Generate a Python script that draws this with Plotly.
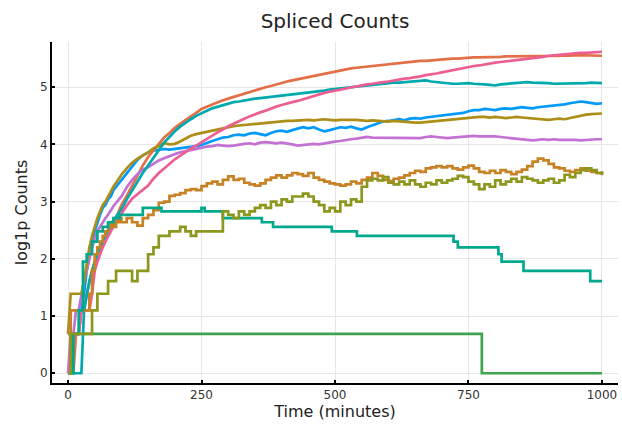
import plotly.graph_objects as go

# Sample times (minutes)
T = [0, 5, 10, 15, 20, 25, 30, 35, 40, 45, 50, 55, 60, 65, 70, 75, 80, 85, 90, 95, 100,
     110, 120, 130, 140, 150, 160, 170, 180, 190, 200,
     210, 220, 230, 240, 250, 260, 270, 280, 290, 300,
     310, 320, 330, 340, 350, 360, 370, 380, 390, 400,
     410, 420, 430, 440, 450, 460, 470, 480, 490, 500,
     510, 520, 530, 540, 550, 560, 570, 580, 590, 600,
     610, 620, 630, 640, 650, 660, 670, 680, 690, 700,
     710, 720, 730, 740, 750, 760, 770, 780, 790, 800,
     810, 820, 830, 840, 850, 860, 870, 880, 890, 900,
     910, 920, 930, 940, 950, 960, 970, 980, 990, 1000]

blue = [0, 0, 0.69, 0.69, 0.69, 1.1, 1.39, 1.79, 2.08, 2.3, 2.48, 2.64, 2.77, 2.89, 2.94, 3.04, 3.09, 3.2, 3.26, 3.33, 3.38,
        3.5, 3.62, 3.73, 3.81, 3.86, 3.89, 3.9, 3.92, 3.91, 3.92,
        3.93, 3.95, 3.96, 3.97, 3.99, 4.03, 4.06, 4.09, 4.12, 4.13,
        4.16, 4.17, 4.16, 4.19, 4.2, 4.18, 4.16, 4.2, 4.23, 4.24,
        4.22, 4.25, 4.28, 4.3, 4.28, 4.3, 4.26, 4.23, 4.25, 4.28,
        4.3, 4.29, 4.31, 4.28, 4.26, 4.3, 4.33, 4.37, 4.4, 4.41,
        4.43, 4.44, 4.42, 4.45, 4.46, 4.45, 4.47, 4.48, 4.5, 4.5,
        4.52, 4.53, 4.53, 4.55, 4.58, 4.6, 4.6, 4.62, 4.61, 4.6,
        4.62, 4.63, 4.62, 4.64, 4.65, 4.64, 4.63, 4.65, 4.66, 4.66,
        4.67, 4.69, 4.7, 4.72, 4.74, 4.75, 4.74, 4.73, 4.71, 4.72]

orange = [0, 0, 0, 0.69, 0.69, 1.1, 1.1, 1.39, 1.61, 1.79, 1.95, 2.08, 2.2, 2.3, 2.4, 2.48, 2.56, 2.64, 2.71, 2.83, 2.94,
          3.1, 3.28, 3.46, 3.63, 3.78, 3.9, 4.02, 4.12, 4.2, 4.29,
          4.36, 4.43, 4.49, 4.55, 4.62, 4.66, 4.7, 4.73, 4.77, 4.8,
          4.83, 4.86, 4.88, 4.91, 4.95, 4.97, 5.0, 5.02, 5.05, 5.07,
          5.1, 5.12, 5.14, 5.16, 5.18, 5.2, 5.22, 5.24, 5.26, 5.28,
          5.3, 5.31, 5.33, 5.34, 5.35, 5.37, 5.38, 5.39, 5.4, 5.41,
          5.42, 5.43, 5.43, 5.44, 5.45, 5.46, 5.46, 5.47, 5.48, 5.48,
          5.49, 5.5, 5.5, 5.51, 5.51, 5.52, 5.52, 5.52, 5.53, 5.53,
          5.53, 5.54, 5.54, 5.54, 5.54, 5.54, 5.55, 5.55, 5.55, 5.55,
          5.55, 5.55, 5.55, 5.55, 5.56, 5.56, 5.56, 5.55, 5.55, 5.55]

green_t = [0, 775, 1000]
green = [0.69, 0, 0]

purple = [0, 0.69, 0.69, 1.1, 1.1, 1.39, 1.61, 1.79, 2.0, 2.2, 2.35, 2.48, 2.56, 2.64, 2.71, 2.77, 2.85, 2.92, 2.98, 3.04, 3.09,
          3.25, 3.38, 3.48, 3.56, 3.6, 3.66, 3.72, 3.76, 3.8, 3.83,
          3.86, 3.88, 3.91, 3.93, 3.95, 3.96, 3.97, 3.99, 3.98, 3.97,
          3.98, 4.0, 4.01, 4.02, 4.0, 4.03, 4.04, 4.03, 4.02, 4.03,
          4.02, 4.0, 3.98, 3.99, 4.0, 4.01, 4.0, 4.02, 4.04, 4.05,
          4.06, 4.08, 4.09, 4.1, 4.12, 4.13, 4.12, 4.12, 4.11, 4.11,
          4.12, 4.11, 4.11, 4.12, 4.12, 4.11, 4.13, 4.14, 4.13, 4.12,
          4.11, 4.12, 4.13, 4.14, 4.14, 4.15, 4.14, 4.14, 4.15, 4.14,
          4.13, 4.12, 4.11, 4.1, 4.09, 4.07, 4.07, 4.08, 4.09, 4.08,
          4.09, 4.08, 4.08, 4.09, 4.08, 4.07, 4.08, 4.09, 4.09, 4.09]

gold = [0.69, 1.39, 1.39, 1.39, 1.39, 1.39, 1.61, 1.95, 2.2, 2.4, 2.56, 2.71, 2.83, 2.94, 3.0, 3.09, 3.18, 3.26, 3.33, 3.4, 3.47,
        3.58, 3.68, 3.75, 3.8, 3.86, 3.93, 3.98, 4.02, 4.0, 4.01,
        4.05, 4.1, 4.15, 4.18, 4.2, 4.22, 4.24, 4.27, 4.29, 4.31,
        4.32, 4.33, 4.34, 4.35, 4.36, 4.37, 4.37, 4.38, 4.39, 4.4,
        4.41, 4.41, 4.42, 4.42, 4.43, 4.42, 4.43, 4.44, 4.43, 4.42,
        4.43, 4.43, 4.44, 4.43, 4.42, 4.41, 4.42, 4.41, 4.41, 4.4,
        4.41, 4.4, 4.39, 4.39, 4.38, 4.38, 4.39, 4.4, 4.41, 4.42,
        4.42, 4.43, 4.44, 4.45, 4.46, 4.47, 4.48, 4.48, 4.47, 4.48,
        4.47, 4.46, 4.47, 4.48, 4.47, 4.46, 4.45, 4.44, 4.44, 4.43,
        4.44, 4.45, 4.44, 4.46, 4.49, 4.51, 4.52, 4.53, 4.53, 4.54]

teal = [0, 0, 0, 0, 0, 0, 1.1, 1.39, 1.61, 1.79, 1.95, 2.08, 2.2, 2.3, 2.4, 2.5, 2.6, 2.68, 2.74, 2.8, 2.86,
        3.04, 3.2, 3.35, 3.5, 3.63, 3.76, 3.9, 4.03, 4.13, 4.23,
        4.31, 4.38, 4.44, 4.5, 4.55, 4.59, 4.63, 4.66, 4.69, 4.72,
        4.74, 4.75, 4.77, 4.78, 4.8, 4.81, 4.82, 4.84, 4.85, 4.86,
        4.87, 4.88, 4.89, 4.9, 4.91, 4.92, 4.93, 4.94, 4.96, 4.97,
        4.98, 4.99, 5.0, 5.01, 5.03, 5.04, 5.05, 5.06, 5.06, 5.07,
        5.08, 5.08, 5.09, 5.1, 5.11, 5.12, 5.12, 5.1, 5.09, 5.07,
        5.07, 5.06, 5.06, 5.07, 5.07, 5.06, 5.06, 5.05, 5.04, 5.03,
        5.05, 5.06, 5.07, 5.07, 5.08, 5.09, 5.08, 5.08, 5.07, 5.07,
        5.06, 5.06, 5.07, 5.06, 5.06, 5.07, 5.07, 5.08, 5.07, 5.07]

pink = [0, 0, 0.69, 0.69, 0.69, 1.1, 1.1, 1.1, 1.1, 1.39, 1.79, 1.95, 2.08, 2.2, 2.3, 2.4, 2.48, 2.56, 2.64, 2.71, 2.79,
        2.93, 3.05, 3.13, 3.2, 3.28, 3.4, 3.5, 3.58, 3.66, 3.74,
        3.8, 3.87, 3.93, 3.98, 4.04, 4.1, 4.16, 4.21, 4.26, 4.32,
        4.36, 4.41, 4.45, 4.49, 4.53, 4.56, 4.59, 4.63, 4.66, 4.69,
        4.72, 4.74, 4.76, 4.79, 4.82, 4.85, 4.88, 4.9, 4.92, 4.94,
        4.96, 4.98, 5.0, 5.02, 5.03, 5.05, 5.06, 5.08, 5.09, 5.1,
        5.12, 5.13, 5.15, 5.16, 5.17, 5.19, 5.21, 5.22, 5.24, 5.26,
        5.28, 5.3, 5.32, 5.34, 5.36, 5.37, 5.38, 5.4, 5.42, 5.43,
        5.44, 5.45, 5.47, 5.48, 5.49, 5.5, 5.51, 5.52, 5.53, 5.55,
        5.56, 5.56, 5.57, 5.58, 5.59, 5.6, 5.6, 5.61, 5.62, 5.62]

brown = [0, 1.1, 1.1, 1.1, 1.1, 1.1, 1.1, 1.1, 1.39, 1.79, 2.08, 2.2, 2.3, 2.4, 2.48, 2.56, 2.64, 2.56, 2.64, 2.71, 2.64,
         2.71, 2.64, 2.58, 2.71, 2.77, 2.85, 2.98, 3.0, 3.1, 3.12,
         3.15, 3.2, 3.22, 3.2, 3.27, 3.32, 3.35, 3.3, 3.38, 3.44,
         3.38, 3.4, 3.33, 3.3, 3.28, 3.32, 3.38, 3.42, 3.46, 3.42,
         3.46, 3.5, 3.48, 3.45, 3.5, 3.42, 3.38, 3.35, 3.32, 3.3,
         3.28, 3.3, 3.35, 3.32, 3.38, 3.42, 3.5, 3.45, 3.38, 3.36,
         3.4, 3.42, 3.46, 3.5, 3.54, 3.52, 3.58, 3.6, 3.62, 3.6,
         3.62, 3.58, 3.56, 3.6, 3.63, 3.58, 3.52, 3.5, 3.54, 3.5,
         3.55, 3.52, 3.48, 3.52, 3.56, 3.62, 3.7, 3.75, 3.72, 3.66,
         3.6, 3.58, 3.54, 3.52, 3.55, 3.58, 3.54, 3.52, 3.5, 3.46]

seagreen_t = [0, 10, 20, 28, 35, 45, 55, 65, 75, 85, 97, 140, 175, 250, 256, 290, 363, 384, 494, 541, 722, 730, 806, 812, 853, 978, 1000]
seagreen = [0, 0.69, 1.1, 1.95, 2.08, 2.3, 2.48, 2.56, 2.64, 2.71, 2.77, 2.89, 2.83, 2.89, 2.83, 2.71, 2.64, 2.56, 2.48, 2.4, 2.3, 2.2, 2.08, 1.95, 1.79, 1.61, 1.61]

olive = [0, 0.69, 0.69, 0.69, 0.69, 0.69, 0.69, 0.69, 0.69, 1.1, 1.1, 1.39, 1.39, 1.39, 1.39, 1.61, 1.61, 1.61, 1.79, 1.79, 1.79,
         1.79, 1.61, 1.79, 1.79, 2.08, 2.2, 2.4, 2.4, 2.48, 2.48,
         2.56, 2.48, 2.4, 2.48, 2.48, 2.48, 2.48, 2.48, 2.83, 2.77,
         2.71, 2.83, 2.77, 2.83, 2.89, 2.94, 2.89, 3.0, 2.94, 3.04,
         3.0, 3.09, 3.09, 3.14, 3.09, 3.0, 2.94, 2.83, 2.89, 2.83,
         3.0, 2.94, 3.04, 3.0, 3.26, 3.37, 3.4, 3.37, 3.43, 3.33,
         3.3, 3.35, 3.3, 3.37, 3.3, 3.26, 3.33, 3.3, 3.37, 3.33,
         3.37, 3.4, 3.45, 3.43, 3.35, 3.3, 3.22, 3.3, 3.26, 3.37,
         3.3, 3.35, 3.4, 3.35, 3.43, 3.4, 3.37, 3.33, 3.37, 3.4,
         3.33, 3.37, 3.47, 3.43, 3.5, 3.55, 3.58, 3.55, 3.5, 3.53]

x_ticks = [0, 250, 500, 750, 1000]
y_ticks = [0, 1, 2, 3, 4, 5]

# (times, values, colour, line shape)
traces = [
    (T, blue, "#009AFA", "linear"),
    (T, orange, "#E36F47", "linear"),
    (green_t, green, "#3EA44E", "hv"),
    (T, purple, "#C371D2", "linear"),
    (T, gold, "#AC8E18", "linear"),
    (T, teal, "#00A9AD", "linear"),
    (T, pink, "#ED5E93", "linear"),
    (T, brown, "#C68225", "hv"),
    (seagreen_t, seagreen, "#00A98D", "hv"),
    (T, olive, "#8E971D", "hv"),
]

fig = go.Figure()
for xs, ys, col, shp in traces:
    fig.add_trace(go.Scatter(x=xs, y=ys, mode="lines",
                             line=dict(color=col, width=2.7, shape=shp),
                             showlegend=False, hoverinfo="skip"))

FONT = "DejaVu Sans"
fig.update_layout(
    width=622, height=433,
    margin=dict(l=52, r=4, t=42, b=50),
    paper_bgcolor="white", plot_bgcolor="white",
    font=dict(family=FONT, color="#222"),
    title=dict(text="Spliced Counts", x=0.5, xref="paper", xanchor="center",
               y=1 - 20.5 / 433, yref="container", yanchor="middle",
               font=dict(size=20, family=FONT, color="#222")),
)
fig.update_xaxes(
    range=[-30, 1030], tickvals=x_ticks, ticktext=[str(v) for v in x_ticks],
    showgrid=True, gridcolor="#e6e6e6", gridwidth=1, zeroline=False,
    showline=True, linecolor="black", linewidth=2,
    ticks="inside", ticklen=3, tickwidth=1.5, tickcolor="black",
    tickfont=dict(size=12, family=FONT, color="#333"),
    title=dict(text="Time (minutes)", font=dict(size=16, family=FONT, color="#222"), standoff=4),
)
fig.update_yaxes(
    range=[-0.17, 5.79], tickvals=y_ticks, ticktext=[str(v) for v in y_ticks],
    showgrid=True, gridcolor="#e6e6e6", gridwidth=1, zeroline=False,
    showline=True, linecolor="black", linewidth=2,
    ticks="inside", ticklen=3, tickwidth=1.5, tickcolor="black",
    tickfont=dict(size=12, family=FONT, color="#333"),
    title=dict(text="log1p Counts", font=dict(size=16, family=FONT, color="#222"), standoff=8),
)

fig.write_html("out.html")
